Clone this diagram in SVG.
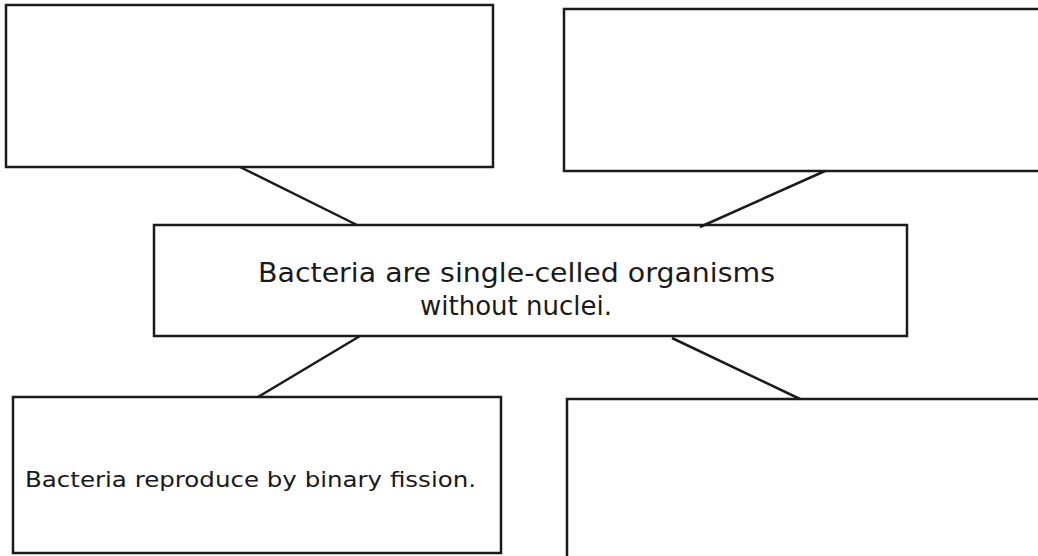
<svg xmlns="http://www.w3.org/2000/svg" width="1038" height="556" viewBox="0 0 1038 556">
<style>
.box{fill:none;stroke:#1a1a1a;stroke-width:2.5}
.con{stroke:#1a1a1a;stroke-width:2.5;fill:none}
.t{font-family:"DejaVu Sans","Liberation Sans",Arial,sans-serif;fill:#1a1a1a}
</style>
<rect width="1038" height="556" fill="#ffffff"/>
<g id="connectors">
<line class="con" x1="240" y1="167" x2="357" y2="225"/>
<line class="con" x1="825" y1="171" x2="700" y2="227"/>
<line class="con" x1="360" y1="336" x2="258" y2="397"/>
<line class="con" x1="672" y1="338" x2="800" y2="399"/>
</g>
<g id="top-left">
<rect class="box" x="6" y="5" width="487" height="162"/>
</g>
<g id="top-right">
<rect class="box" x="564" y="9" width="490" height="162"/>
</g>
<g id="center">
<rect class="box" x="154" y="225" width="753" height="111"/>
<text class="t" x="258" y="282" font-size="27" textLength="517" lengthAdjust="spacingAndGlyphs">Bacteria are single-celled organisms</text>
<text class="t" x="516" y="315" font-size="26" text-anchor="middle">without nuclei.</text>
</g>
<g id="bottom-left">
<rect class="box" x="13" y="397" width="488" height="156"/>
<text class="t" x="25" y="487" font-size="22" textLength="451" lengthAdjust="spacingAndGlyphs">Bacteria reproduce by binary fission.</text>
</g>
<g id="bottom-right">
<rect class="box" x="567" y="399" width="490" height="160"/>
</g>
</svg>
